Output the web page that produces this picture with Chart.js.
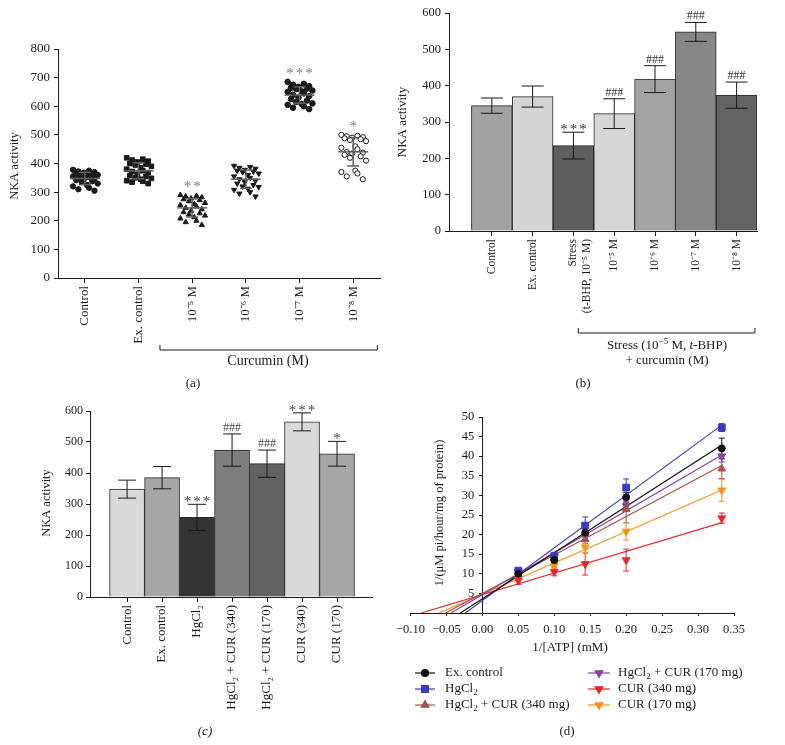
<!DOCTYPE html>
<html>
<head>
<meta charset="utf-8">
<script src="https://cdn.jsdelivr.net/npm/chart.js@4.4.1/dist/chart.umd.min.js"></script>
<style>
  body { margin: 0; background: #fff; width: 785px; height: 745px; position: relative; overflow: hidden; }
  canvas { position: absolute; }
</style>
</head>
<body>
<canvas id="ca" width="390" height="390" style="left:0;top:0"></canvas>
<canvas id="cb" width="395" height="390" style="left:390px;top:0"></canvas>
<canvas id="cc" width="390" height="355" style="left:0;top:390px"></canvas>
<canvas id="cd" width="395" height="355" style="left:390px;top:390px"></canvas>
<script>
// ---- (a) individual NKA activity values per group ----
const groupsA = ['Control', 'Ex. control', '10⁻⁵ M', '10⁻⁶ M', '10⁻⁷ M', '10⁻⁸ M'];
const controlA = [378, 375, 372, 370, 368, 366, 365, 362, 360, 358, 355, 352, 350, 348, 345, 342, 338, 335, 330, 325, 320, 315, 310, 305];
const exControlA = [420, 415, 412, 408, 405, 400, 398, 395, 390, 385, 380, 375, 372, 368, 362, 358, 355, 350, 348, 345, 340, 338, 335, 330];
const cur5A = [290, 287, 285, 282, 278, 275, 272, 268, 262, 258, 255, 250, 245, 240, 235, 230, 226, 222, 218, 212, 208, 200, 195, 185];
const cur6A = [392, 388, 385, 382, 378, 375, 372, 370, 365, 360, 355, 350, 345, 340, 335, 330, 325, 320, 318, 312, 308, 300, 295, 285];
const cur7A = [685, 678, 675, 670, 668, 665, 662, 660, 655, 652, 650, 645, 640, 635, 630, 625, 620, 615, 610, 608, 605, 600, 595, 590];
const cur8A = [500, 497, 495, 492, 490, 488, 485, 482, 478, 460, 455, 450, 440, 438, 435, 430, 425, 420, 410, 375, 370, 365, 355, 345];
const sigA = ['', '', '**', '', '***', '*'];

// ---- (b) t-BHP stress + curcumin ----
const labelsB = ['Control', 'Ex. control', ['Stress', '(t-BHP, 10⁻⁵ M)'], '10⁻⁵ M', '10⁻⁶ M', '10⁻⁷ M', '10⁻⁸ M'];
const meanB = [345, 370, 235, 323, 418, 548, 374];
const errB = [21, 29, 37, 41, 37, 26, 36];
const sigB = ['', '', '***', '###', '###', '###', '###'];

// ---- (c) HgCl2 + curcumin ----
const labelsC = ['Control', 'Ex. control', 'HgCl₂', 'HgCl₂ + CUR (340)', 'HgCl₂ + CUR (170)', 'CUR (340)', 'CUR (170)'];
const meanC = [348, 385, 257, 474, 430, 565, 462];
const errC = [29, 36, 42, 52, 44, 29, 40];
const sigC = ['', '', '***', '###', '###', '***', '*'];

// ---- (d) Lineweaver-Burk ----
const atpInv = [0.05, 0.10, 0.143, 0.20, 0.333];
const exControlD = [10, 13.5, 20.5, 29.5, 42];
const hgcl2D = [10.8, 14.5, 22.3, 32, 47.3];
const hgCur340D = [9.8, 14, 18.8, 26.5, 36.8];
const hgCur170D = [10.5, 14.5, 19.5, 27.3, 40];
const cur340D = [8.3, 10.5, 12.5, 13.5, 24.2];
const cur170D = [9, 12, 16.8, 20.8, 31.3];
const exControlErr = [0.5, 0.8, 1, 1.2, 2.6];
const hgcl2Err = [0.6, 0.8, 2.2, 2.2, 1];
const hgCur340Err = [0.5, 0.8, 1, 3.5, 2.5];
const hgCur170Err = [0.5, 1, 1, 1, 1.5];
const cur340Err = [1, 1, 2.8, 2.8, 1.3];
const cur170Err = [0.8, 1, 1.5, 2.2, 2.8];

const SERIF = '"Liberation Serif", "Times New Roman", serif';
const INK = '#1a1a1a';
Chart.defaults.font.family = SERIF;
Chart.defaults.color = INK;

// styles
const fillB = ['#a2a2a2', '#d4d4d4', '#5e5e5e', '#d6d6d6', '#a4a4a4', '#868686', '#636363'];
const fillC = ['#d9d9d9', '#a6a6a6', '#333333', '#7e7e7e', '#626262', '#d9d9d9', '#a6a6a6'];
const colorsD = ['#111111', '#3b3bc0', '#a45252', '#8343a3', '#e8262b', '#f7931e'];
const markD = [
  { pointStyle: 'circle', r: 3.5, rot: 0 },
  { pointStyle: 'rect', r: 4.8, rot: 0 },
  { pointStyle: 'triangle', r: 4.5, rot: 0 },
  { pointStyle: 'triangle', r: 4.5, rot: 180 },
  { pointStyle: 'triangle', r: 4.5, rot: 180 },
  { pointStyle: 'triangle', r: 4.5, rot: 180 }
];

// ---- helpers ----
function rich(ctx, parts, x, y, size, align) {
  const fontOf = k => (k === 'i' ? 'italic ' : '') + ((k === 'sup' || k === 'sub') ? Math.round(size * 0.7) : size) + 'px ' + SERIF;
  let w = 0;
  parts.forEach(([t, k]) => { ctx.font = fontOf(k); w += ctx.measureText(t).width; });
  let cx = align === 'left' ? x : x - w / 2;
  ctx.textAlign = 'left';
  ctx.textBaseline = 'middle';
  parts.forEach(([t, k]) => {
    ctx.font = fontOf(k);
    const dy = k === 'sup' ? -size * 0.35 : k === 'sub' ? size * 0.3 : 0;
    ctx.fillText(t, cx, y + dy);
    cx += ctx.measureText(t).width;
  });
}
function vtext(ctx, text, x, y, size) {
  ctx.save();
  ctx.translate(x, y);
  ctx.rotate(-Math.PI / 2);
  ctx.font = size + 'px ' + SERIF;
  ctx.textAlign = 'center';
  ctx.textBaseline = 'middle';
  ctx.fillText(text, 0, 0);
  ctx.restore();
}
function seg(ctx, x1, y1, x2, y2) {
  ctx.beginPath(); ctx.moveTo(x1, y1); ctx.lineTo(x2, y2); ctx.stroke();
}
function bracket(ctx, x1, x2, y) {
  ctx.beginPath(); ctx.moveTo(x1, y - 5); ctx.lineTo(x1, y); ctx.lineTo(x2, y); ctx.lineTo(x2, y - 5); ctx.stroke();
}
function sigText(ctx, s, x, y, color) {
  ctx.save();
  ctx.fillStyle = color;
  ctx.textAlign = 'center';
  ctx.textBaseline = 'alphabetic';
  if (s.startsWith('#')) { ctx.font = '12px ' + SERIF; ctx.letterSpacing = '0px'; ctx.fillText(s, x, y); }
  else { ctx.font = '15px ' + SERIF; ctx.letterSpacing = '2px'; ctx.fillText(s, x + 1, y + 5); }
  ctx.restore();
}
const meanOf = v => v.reduce((a, b) => a + b, 0) / v.length;
const sdOf = v => { const m = meanOf(v); return Math.sqrt(v.reduce((a, b) => a + (b - m) ** 2, 0) / (v.length - 1)); };
function fit(xs, ys) {
  const mx = meanOf(xs), my = meanOf(ys);
  let sxy = 0, sxx = 0;
  xs.forEach((x, i) => { sxy += (x - mx) * (ys[i] - my); sxx += (x - mx) ** 2; });
  const m = sxy / sxx;
  return { m, b: my - m * mx };
}

function yAxis(min, max, step, width, size, pad) {
  return {
    min, max,
    ticks: { stepSize: step, font: { family: SERIF, size }, color: INK, padding: pad },
    grid: { display: true, drawOnChartArea: false, tickLength: 4, color: INK },
    border: { color: INK, width: 1 },
    afterFit: s => { s.width = width; }
  };
}
function xCat(labels, min, max, height, size) {
  return {
    type: 'linear', min, max, offset: false,
    afterBuildTicks: s => { s.ticks = labels.map((_, i) => ({ value: i })); },
    ticks: { autoSkip: false, minRotation: 90, maxRotation: 90, font: { family: SERIF, size }, color: INK, padding: 3,
      callback: (v, i) => labels[i] },
    grid: { display: true, offset: false, drawOnChartArea: false, tickLength: 5, color: INK },
    border: { color: INK, width: 1 },
    afterFit: s => { s.height = height; }
  };
}
function baseOptions(padding, scales) {
  return {
    responsive: false, animation: false, devicePixelRatio: 1,
    layout: { padding },
    plugins: { legend: { display: false }, tooltip: { enabled: false } },
    scales
  };
}
function barExtras(means, errs, sig, cap, sigColor) {
  return {
    id: 'barExtras',
    afterDatasetsDraw(chart) {
      const { ctx, scales: { x, y } } = chart;
      ctx.save();
      ctx.strokeStyle = INK;
      ctx.lineWidth = 1;
      means.forEach((m, i) => {
        const px = x.getPixelForValue(i);
        const top = y.getPixelForValue(m + errs[i]);
        const bot = y.getPixelForValue(m - errs[i]);
        seg(ctx, px, top, px, bot);
        seg(ctx, px - cap / 2, top, px + cap / 2, top);
        seg(ctx, px - cap / 2, bot, px + cap / 2, bot);
        if (sig[i]) sigText(ctx, sig[i], px, top - 3, sigColor);
      });
      ctx.restore();
    }
  };
}

// ================= (a) =================
const valuesA = [controlA, exControlA, cur5A, cur6A, cur7A, cur8A];
const styleA = [
  { ps: 'circle', r: 2.7, rot: 0, fill: INK },
  { ps: 'rect', r: 3.3, rot: 0, fill: INK },
  { ps: 'triangle', r: 3, rot: 0, fill: INK },
  { ps: 'triangle', r: 3, rot: 180, fill: INK },
  { ps: 'circle', r: 2.8, rot: 0, fill: INK },
  { ps: 'circle', r: 2.6, rot: 0, fill: '#fff' }
];
const spread = i => (((i * 3) % 5) - 2) * 0.1 + ((Math.floor(i / 5) % 2) ? 0.04 : -0.02);

new Chart(document.getElementById('ca'), {
  type: 'scatter',
  data: {
    datasets: valuesA.map((vals, g) => ({
      data: vals.map((v, i) => ({ x: g + spread(i), y: v })),
      pointStyle: styleA[g].ps, pointRotation: styleA[g].rot, pointRadius: styleA[g].r,
      backgroundColor: styleA[g].fill, borderColor: INK, borderWidth: 1
    }))
  },
  options: baseOptions({ left: 5, top: 49, right: 10, bottom: 0 }, {
    x: xCat(groupsA, -0.5, 5.5, 112, 13),
    y: yAxis(0, 800, 100, 53, 13, 4)
  }),
  plugins: [{
    id: 'extrasA',
    afterDatasetsDraw(chart) {
      const { ctx, scales: { x, y } } = chart;
      ctx.save();
      ctx.strokeStyle = '#606060';
      ctx.lineWidth = 1.5;
      valuesA.forEach((vals, g) => {
        const m = meanOf(vals), sd = sdOf(vals), px = x.getPixelForValue(g);
        const py = y.getPixelForValue(m), t = y.getPixelForValue(m + sd), b = y.getPixelForValue(m - sd);
        seg(ctx, px - 15, py, px + 15, py);
        seg(ctx, px, t, px, b);
        seg(ctx, px - 6, t, px + 6, t);
        seg(ctx, px - 6, b, px + 6, b);
        if (sigA[g]) sigText(ctx, sigA[g], px, y.getPixelForValue(Math.max(...vals) + 30), '#7a7a7a');
      });
      ctx.restore();
    },
    afterDraw(chart) {
      const { ctx, scales: { x } } = chart;
      ctx.save();
      ctx.fillStyle = INK; ctx.strokeStyle = INK; ctx.lineWidth = 1;
      vtext(ctx, 'NKA activity', 15, 166, 12.5);
      bracket(ctx, x.getPixelForValue(1.4), x.getPixelForValue(5.45), 350);
      rich(ctx, [['Curcumin (M)', '']], 268, 361, 14);
      rich(ctx, [['(a)', '']], 193, 384, 13);
      ctx.restore();
    }
  }]
});

// ================= (b) =================
new Chart(document.getElementById('cb'), {
  type: 'bar',
  data: {
    datasets: [{
      data: meanB.map((v, i) => ({ x: i, y: v })),
      backgroundColor: fillB, borderColor: '#2a2a2a', borderWidth: 1,
      barPercentage: 1, categoryPercentage: 1
    }]
  },
  options: baseOptions({ left: 3, top: 13, right: 28, bottom: 0 }, {
    x: xCat(labelsB, -1.05, 6.5, 159, 11.5),
    y: yAxis(0, 600, 100, 56, 12.5, 4)
  }),
  plugins: [barExtras(meanB, errB, sigB, 22, '#333'), {
    id: 'extrasB',
    afterDraw(chart) {
      const { ctx, scales: { x } } = chart;
      ctx.save();
      ctx.fillStyle = INK; ctx.strokeStyle = INK; ctx.lineWidth = 1;
      vtext(ctx, 'NKA activity', 13, 122, 13);
      bracket(ctx, x.getPixelForValue(2.12), x.getPixelForValue(6.45), 333);
      rich(ctx, [['Stress (10', ''], ['−5', 'sup'], [' M, ', ''], ['t', 'i'], ['-BHP)', '']], 277, 346, 13);
      rich(ctx, [['+ curcumin (M)', '']], 277, 361, 13);
      rich(ctx, [['(b)', '']], 193, 384, 13);
      ctx.restore();
    }
  }]
});

// ================= (c) =================
new Chart(document.getElementById('cc'), {
  type: 'bar',
  data: {
    datasets: [{
      data: meanC.map((v, i) => ({ x: i, y: v })),
      backgroundColor: fillC, borderColor: '#2a2a2a', borderWidth: 1,
      barPercentage: 1, categoryPercentage: 1
    }]
  },
  options: baseOptions({ left: 35, top: 21, right: 18, bottom: 0 }, {
    x: xCat(labelsC, -1.06, 7.0, 148, 13),
    y: yAxis(0, 600, 100, 55, 12, 3)
  }),
  plugins: [barExtras(meanC, errC, sigC, 18, '#444'), {
    id: 'extrasC',
    afterDraw(chart) {
      const { ctx } = chart;
      ctx.save();
      ctx.fillStyle = INK;
      vtext(ctx, 'NKA activity', 47, 113, 12.5);
      rich(ctx, [['(c)', 'i']], 205, 342, 13);
      ctx.restore();
    }
  }]
});

// ================= (d) =================
const seriesD = [exControlD, hgcl2D, hgCur340D, hgCur170D, cur340D, cur170D];
const errD = [exControlErr, hgcl2Err, hgCur340Err, hgCur170Err, cur340Err, cur170Err];
const lastX = atpInv[atpInv.length - 1];
const fitDatasets = seriesD.map((ys, s) => {
  const { m, b } = fit(atpInv, ys);
  return {
    type: 'line', data: [{ x: -b / m, y: 0 }, { x: lastX, y: m * lastX + b }],
    borderColor: colorsD[s], borderWidth: 1.2, pointRadius: 0, showLine: true, fill: false, order: 2
  };
});
const pointDatasets = seriesD.map((ys, s) => ({
  type: 'scatter', data: ys.map((v, i) => ({ x: atpInv[i], y: v })),
  pointStyle: markD[s].pointStyle, pointRadius: markD[s].r, pointRotation: markD[s].rot,
  backgroundColor: colorsD[s], borderColor: colorsD[s], borderWidth: 1, showLine: false, order: 1
}));

function marker(ctx, s, x, y) {
  ctx.fillStyle = colorsD[s];
  ctx.strokeStyle = colorsD[s];
  Chart.helpers.drawPoint(ctx, { pointStyle: markD[s].pointStyle, rotation: markD[s].rot, radius: markD[s].r, borderWidth: 1 }, x, y);
}

new Chart(document.getElementById('cd'), {
  type: 'scatter',
  data: { datasets: [...fitDatasets, ...pointDatasets] },
  options: baseOptions({ left: 14, top: 27, right: 51, bottom: 0 }, {
    x: {
      type: 'linear', min: -0.1, max: 0.35,
      ticks: { stepSize: 0.05, font: { family: SERIF, size: 12.5 }, color: INK, padding: 6,
        callback: v => (v < -1e-9 ? '−' : '') + Math.abs(v).toFixed(2) },
      grid: { display: true, drawOnChartArea: false, tickLength: 3, color: INK },
      border: { color: INK },
      afterFit: s => { s.height = 132; }
    },
    y: {
      type: 'linear', position: { x: 0 }, min: 0, max: 50,
      ticks: { stepSize: 5, display: false },
      grid: { display: true, drawOnChartArea: false, tickLength: 3, color: INK },
      border: { color: INK }
    }
  }),
  plugins: [{
    id: 'extrasD',
    beforeDatasetsDraw(chart) {
      const { ctx, scales: { x, y } } = chart;
      ctx.save();
      ctx.lineWidth = 1;
      seriesD.forEach((ys, s) => {
        ctx.strokeStyle = colorsD[s];
        ys.forEach((v, i) => {
          const e = errD[s][i];
          if (!e) return;
          const px = x.getPixelForValue(atpInv[i]);
          const t = y.getPixelForValue(v + e), b = y.getPixelForValue(v - e);
          seg(ctx, px, t, px, b);
          seg(ctx, px - 3, t, px + 3, t);
          seg(ctx, px - 3, b, px + 3, b);
        });
      });
      ctx.restore();
    },
    afterDraw(chart) {
      const { ctx, scales: { x, y } } = chart;
      ctx.save();
      ctx.fillStyle = INK;
      // y tick labels, left of the axis that sits at x = 0
      const ax = x.getPixelForValue(0);
      ctx.font = '12.5px ' + SERIF;
      ctx.textAlign = 'right';
      ctx.textBaseline = 'middle';
      y.ticks.forEach(t => { if (t.value > 0) ctx.fillText(String(t.value), ax - 8, y.getPixelForValue(t.value)); });
      vtext(ctx, '1/(μM pi/hour/mg of protein)', 50, 123, 12.5);
      rich(ctx, [['1/[ATP] (mM)', '']], 180, 258, 13);
      const cols = [{ x0: 25, x1: 45, tx: 55 }, { x0: 198, x1: 220, tx: 228 }];
      const rows = [283, 299, 315];
      const legendParts = [
        [['Ex. control', '']],
        [['HgCl', ''], ['2', 'sub']],
        [['HgCl', ''], ['2', 'sub'], [' + CUR (340 mg)', '']],
        [['HgCl', ''], ['2', 'sub'], [' + CUR (170 mg)', '']],
        [['CUR (340 mg)', '']],
        [['CUR (170 mg)', '']]
      ];
      seriesD.forEach((_, s) => {
        const c = cols[Math.floor(s / 3)], ry = rows[s % 3];
        ctx.strokeStyle = colorsD[s]; ctx.lineWidth = 1.2;
        seg(ctx, c.x0, ry, c.x1, ry);
        marker(ctx, s, (c.x0 + c.x1) / 2, ry);
        ctx.fillStyle = INK;
        rich(ctx, legendParts[s], c.tx, ry, 13, 'left');
      });
      rich(ctx, [['(d)', '']], 177, 342, 13);
      ctx.restore();
    }
  }]
});
</script>
</body>
</html>
